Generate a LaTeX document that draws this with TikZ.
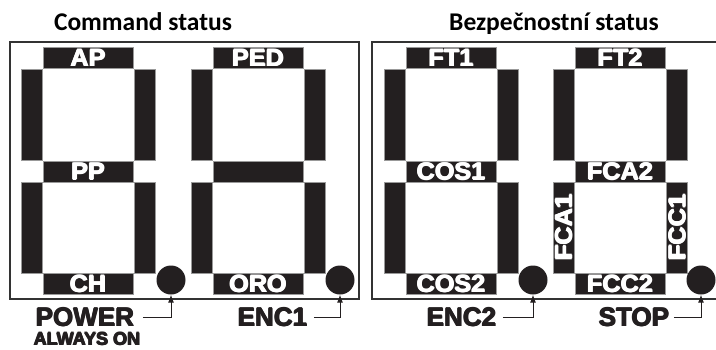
\documentclass[tikz,border=0pt]{standalone}
\usepackage{fontspec}
\setmainfont{Liberation Sans}
\newfontfamily\titlefont{Carlito}
\newfontfamily\heavyfontbase{Liberation Sans}
\newcommand\heavyfont{\heavyfontbase\bfseries}
\usetikzlibrary{arrows.meta}
\definecolor{segblack}{HTML}{231F20}
% embolden by overprinting shifted copies
\newcommand\fat[1]{\leavevmode\rlap{\kern1.2pt#1}\rlap{\kern0.6pt\raise0.5pt\hbox{#1}}\rlap{\kern0.6pt\lower0.5pt\hbox{#1}}#1\kern1.2pt}
\newcommand\seglab[1]{\scalebox{1.05}[1]{\fat{#1}}}
\newcommand\sevenseg[7]{%
  \begin{scope}[xshift=#1]
    \node[hseg] (#2t)  at (88,58)      {\seglab{#3}};
    \node[vseg] (#2ul) at (31.5,114.75) {};
    \node[vseg] (#2ur) at (145,114.75)  {};
    \node[hseg] (#2m)  at (88,171.5)    {\seglab{#4}};
    \node[vseg] (#2ll) at (31.5,227.5)  {#6};
    \node[vseg] (#2lr) at (145,227.5)   {#7};
    \node[hseg] (#2b)  at (88,283.75)   {\seglab{#5}};
  \end{scope}}
\begin{document}
\begin{tikzpicture}[x=1pt,y=-1pt,
  segbase/.style={fill=segblack, draw=black!40, line width=0.4pt, inner sep=0pt,
    text=white, font=\heavyfont\fontsize{24}{24}\selectfont},
  hseg/.style={segbase, minimum width=90pt, minimum height=21pt},
  vseg/.style={segbase, minimum width=21pt, minimum height=91pt},
  frame/.style={draw=black!80, line width=1.5pt},
  led/.style={circle, fill=segblack, minimum size=29pt, inner sep=0pt},
  lab/.style={inner sep=0pt, text=segblack, font=\heavyfont\fontsize{26}{26}\selectfont},
  sublab/.style={inner sep=0pt, text=segblack, font=\heavyfont\fontsize{18}{18}\selectfont},
  title/.style={inner sep=0pt, font=\titlefont\bfseries\fontsize{25.5}{25.5}\selectfont},
  conn/.style={draw=segblack, line width=1pt, -{Latex[length=8pt,width=6pt]}}]
\useasboundingbox (0,0) rectangle (716,349);
\fill[white] (0,0) rectangle (716,349);

\node[title, anchor=base] (t1) at (143,30) {Command status};
\node[title, anchor=base] (t2) at (554,30) {Bezpečnostní status};

\draw[frame] (10,42) rectangle (359,299);
\draw[frame] (372,42) rectangle (730,299);

\sevenseg{0}{a}{AP}{PP}{CH}{}{}
\sevenseg{170}{b}{PED}{}{ORO}{}{}
\sevenseg{363}{c}{FT1}{COS1}{COS2}{}{}
\sevenseg{532}{d}{FT2}{FCA2}{FCC2}{\rotatebox{90}{\seglab{FCA1}}}{\rotatebox{90}{\seglab{FCC1}}}

\node[led] (l1) at (171,280) {};
\node[led] (l2) at (340,280) {};
\node[led] (l3) at (533,280) {};
\node[led] (l4) at (701,280) {};

\node[lab, anchor=west] (pw) at (35,317.5) {\fat{POWER}};
\node[sublab] (aw) at (87,339) {\fat{ALWAYS ON}};
\node[lab, anchor=west] (e1) at (237,317.5) {\fat{ENC1}};
\node[lab, anchor=west] (e2) at (426,317.5) {\fat{ENC2}};
\node[lab, anchor=west] (st) at (598,317.5) {\fat{STOP}};

\draw[conn] ([xshift=8pt]pw.east) -| (l1.south);
\draw[conn] ([xshift=6pt]e1.east) -| (l2.south);
\draw[conn] ([xshift=6pt]e2.east) -| (l3.south);
\draw[conn] ([xshift=4pt]st.east) -| (l4.south);
\end{tikzpicture}
\end{document}
